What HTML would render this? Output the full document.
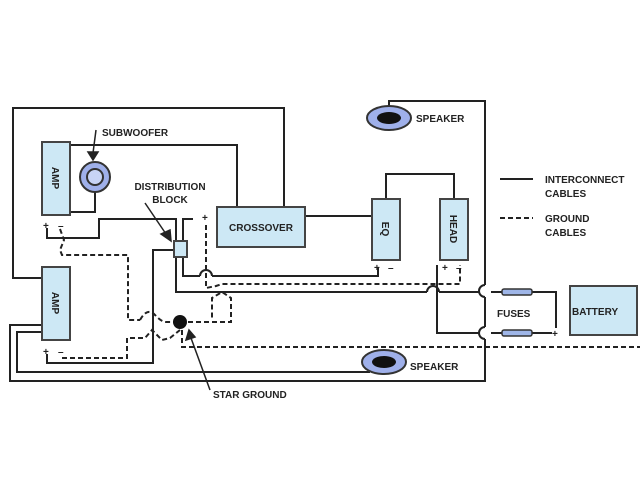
<!DOCTYPE html>
<html><head><meta charset="utf-8"><style>
html,body{margin:0;padding:0;background:#fff;}
svg{display:block;}
text{font-family:"Liberation Sans",sans-serif;font-weight:bold;font-size:10px;fill:#222;}
</style></head><body>
<svg width="640" height="480" viewBox="0 0 640 480" xmlns="http://www.w3.org/2000/svg">
<g fill="none" stroke="#222" stroke-width="2">
<!-- outer big loop -->
<polyline points="42,278 13,278 13,108 284,108 284,207"/>
<!-- amp1 to crossover -->
<polyline points="70,145 237,145 237,207"/>
<!-- sub to amp1 -->
<polyline points="95,192 95,212 70,212"/>
<!-- crossover to EQ -->
<line x1="305" y1="216" x2="372" y2="216"/>
<polyline points="386,199 386,174 454,174 454,199"/>
<!-- speaker top loop -->
<polyline points="389,106 389,101 485,101 485,285"/>
<path d="M485,285 a6,6 0 0 0 0,12"/>
<line x1="485" y1="297" x2="485" y2="327"/>
<path d="M485,327 a6,6 0 0 0 0,12"/>
<polyline points="485,339 485,381 10,381 10,325 42,325"/>
<polyline points="42,332 17,332 17,372 370,372"/>
<!-- amp1 + wire -->
<polyline points="47,228 47,238 99,238 99,219 176,219 176,241"/>
<polyline points="193,219 183,219 183,241"/>
<!-- block bottom lines -->
<polyline points="183,257 183,276 200,276"/>
<path d="M200,276 a6,6 0 0 1 12,0"/>
<polyline points="212,276 378,276 378,268"/>
<polyline points="176,257 176,292 427,292"/>
<path d="M427,292 a6,6 0 0 1 12,0"/>
<line x1="439" y1="292" x2="479" y2="292"/>
<polyline points="491,292 556,292 556,328"/>
<polyline points="437,265 437,333 479,333"/>
<line x1="491" y1="333" x2="552" y2="333"/>
<!-- block left line -->
<polyline points="174,250 153,250 153,363 47,363 47,354"/>
<!-- legend -->
<line x1="500" y1="179" x2="533" y2="179"/>
</g>
<g fill="none" stroke="#222" stroke-width="2" stroke-dasharray="5,3">
<polyline points="60,229 64,240 60,250 62,255 128,255 128,320 140,320"/>
<path d="M140,320 q8,-14 16,-4 q6,6 10,6 L180,322"/>
<polyline points="62,358 127,358 127,338 145,338 152,330 162,340 170,338 180,330"/>
<polyline points="180,322 231,322 231,298 222,292 212,298 212,318"/>
<polyline points="206,225 206,288 216,286 222,284 460,284 460,265"/>
<polyline points="182,330 182,347 640,347"/>
<line x1="500" y1="218" x2="533" y2="218"/>
</g>
<!-- boxes -->
<g fill="#cde8f5" stroke="#444" stroke-width="2">
<rect x="42" y="142" width="28" height="73"/>
<rect x="42" y="267" width="28" height="73"/>
<rect x="217" y="207" width="88" height="40"/>
<rect x="372" y="199" width="28" height="61"/>
<rect x="440" y="199" width="28" height="61"/>
<rect x="174" y="241" width="13" height="16"/>
<rect x="570" y="286" width="67" height="49"/>
</g>
<!-- fuses -->
<g fill="#9fb6e8" stroke="#333" stroke-width="1.5">
<rect x="502" y="289" width="30" height="6" rx="2"/>
<rect x="502" y="330" width="30" height="6" rx="2"/>
</g>
<!-- subwoofer -->
<circle cx="95" cy="177" r="15" fill="#9fb0ea" stroke="#333" stroke-width="2"/>
<circle cx="95" cy="177" r="8" fill="#c8d4f5" stroke="#333" stroke-width="2"/>
<!-- speakers -->
<ellipse cx="389" cy="118" rx="22" ry="12" fill="#9fb0ea" stroke="#333" stroke-width="2"/>
<ellipse cx="389" cy="118" rx="12" ry="6" fill="#111"/>
<ellipse cx="384" cy="362" rx="22" ry="12" fill="#9fb0ea" stroke="#333" stroke-width="2"/>
<ellipse cx="384" cy="362" rx="12" ry="6" fill="#111"/>
<!-- star ground -->
<circle cx="180" cy="322" r="7" fill="#111"/>
<!-- arrows -->
<g stroke="#222" stroke-width="1.5" fill="#222">
<line x1="96" y1="130" x2="93" y2="153"/><polygon points="88,152 98,152 93,160"/>
<line x1="145" y1="203" x2="166" y2="234"/><polygon points="161,234 170,230 171,241"/>
<line x1="210" y1="390" x2="191" y2="338"/><polygon points="186,340 195,337 189,330"/>
</g>
<!-- labels -->
<text x="102" y="136">SUBWOOFER</text>
<text x="170" y="190" text-anchor="middle">DISTRIBUTION</text>
<text x="170" y="203" text-anchor="middle">BLOCK</text>
<text x="261" y="231" text-anchor="middle">CROSSOVER</text>
<text x="213" y="398">STAR GROUND</text>
<text x="416" y="122">SPEAKER</text>
<text x="410" y="370">SPEAKER</text>
<text x="497" y="317">FUSES</text>
<text x="572" y="315">BATTERY</text>
<text x="545" y="183">INTERCONNECT</text>
<text x="545" y="197">CABLES</text>
<text x="545" y="222">GROUND</text>
<text x="545" y="236">CABLES</text>
<text transform="translate(52,178) rotate(90)" text-anchor="middle">AMP</text>
<text transform="translate(52,303) rotate(90)" text-anchor="middle">AMP</text>
<text transform="translate(382,229) rotate(90)" text-anchor="middle">EQ</text>
<text transform="translate(450,229) rotate(90)" text-anchor="middle">HEAD</text>
<text x="43" y="229">+</text><text x="58" y="229">–</text>
<text x="43" y="355">+</text><text x="58" y="355">–</text>
<text x="202" y="221">+</text>
<text x="374" y="271">+</text><text x="388" y="271">–</text>
<text x="442" y="271">+</text><text x="456" y="271">–</text>
<text x="552" y="337">+</text>
</svg>
</body></html>
